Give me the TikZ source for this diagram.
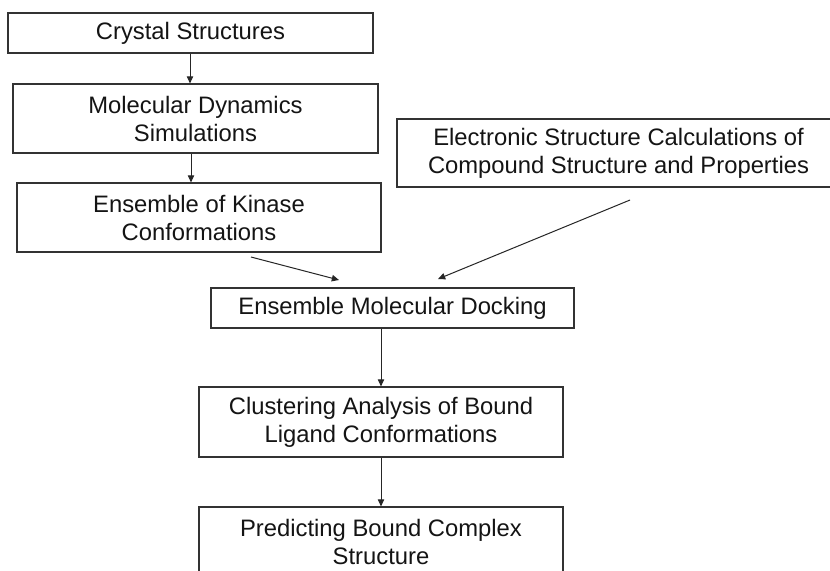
\documentclass[tikz,border=0pt]{standalone}
\usepackage{fontspec}
\setmainfont{Liberation Sans}
\usetikzlibrary{arrows.meta,calc}

\tikzset{
  box/.style={draw=black!80, line width=0.55pt, fill=white, align=center,
    inner sep=0pt, text=black!92,
    font=\fontsize{11.9pt}{14pt}\selectfont},
  flow/.style={draw=black!85, line width=0.5pt,
    -{Triangle[length=3.6pt,width=3.2pt]}},
}

\begin{document}
\begin{tikzpicture}[x=0.5pt,y=-0.5pt]
  \useasboundingbox (0,0) rectangle (830,570);
  \clip (0,0) rectangle (830,570);
  \fill[white] (0,0) rectangle (830,570);

  % left column: structures and sampling
  \node[box, minimum width=182.5pt, minimum height=20pt] (crystal) at (190.5,33)
    {Crystal Structures};
  \node[box, minimum width=182.5pt, minimum height=34.5pt] (md) at (195.5,118.5)
    {Molecular Dynamics\\Simulations};
  \node[box, minimum width=182pt, minimum height=34.5pt] (kinase) at (199,217.5)
    {Ensemble of Kinase\\Conformations};

  % right input: ligand properties
  \node[box, minimum width=221.5pt, minimum height=34pt] (elec) at (618.5,153)
    {Electronic Structure Calculations of\\Compound Structure and Properties};

  % central pipeline
  \node[box, minimum width=181.5pt, minimum height=20pt] (dock) at (392.5,308)
    {Ensemble Molecular Docking};
  \node[box, minimum width=182pt, minimum height=35pt] (cluster) at (381,422)
    {Clustering Analysis of Bound\\Ligand Conformations};
  \node[box, minimum width=182pt, minimum height=35pt] (predict) at (381,542)
    {Predicting Bound Complex\\Structure};

  % free ends of the two converging connectors
  \coordinate (kout) at (251,257);
  \coordinate (kin) at (339,280);
  \coordinate (eout) at (630,200);
  \coordinate (ein) at (438,279);

  % connectors
  \draw[flow] (crystal.south -| 190,0) -- (md.north -| 190,0);
  \draw[flow] (md.south -| 191,0) -- (kinase.north -| 191,0);
  \draw[flow] (kout) -- (kin);
  \draw[flow] (eout) -- (ein);
  \draw[flow] (cluster.north |- dock.south) -- (cluster.north);
  \draw[flow] (cluster.south) -- (predict.north);
\end{tikzpicture}
\end{document}
